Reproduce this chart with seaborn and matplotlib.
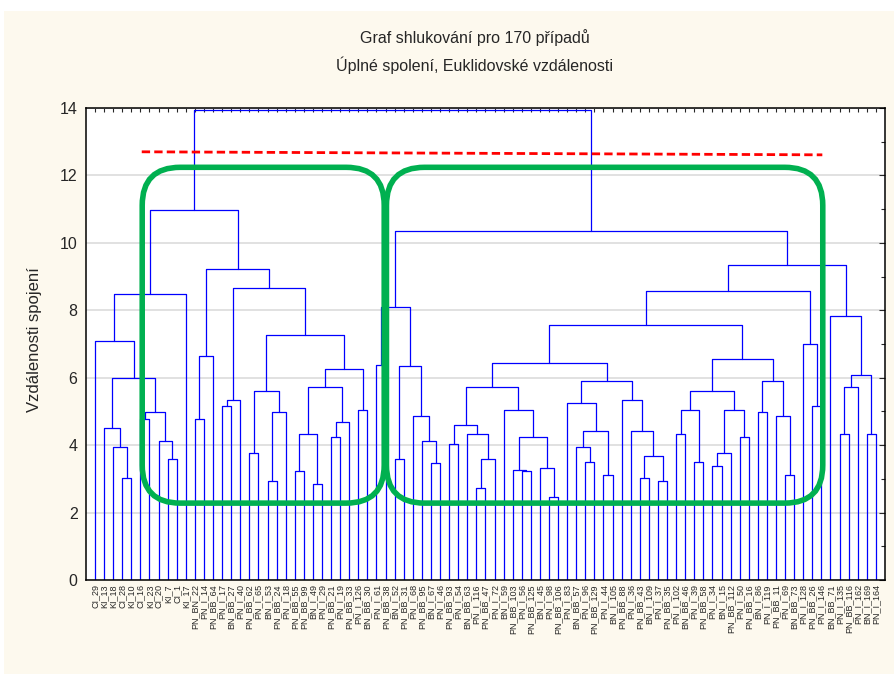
import pandas as pd
import matplotlib
matplotlib.use("Agg")
import matplotlib.pyplot as plt
from matplotlib.patches import FancyBboxPatch, Rectangle
from matplotlib.ticker import MultipleLocator
import seaborn as sns

# leaves are numbered 1..87 from left to right, a merge is (left, right, height)
p_group = (1, ((2, (3, (4, 5, 3.01), 3.95), 4.50),
               ((6, 7, 4.77), (8, (9, 10, 3.58), 4.13), 4.97), 5.99), 7.10)
q_group = ((12, 13, 4.77), 14, 6.63)
r_group = ((15, 16, 5.17), 17, 5.34)
e_group = ((18, 19, 3.76), ((20, 21, 2.94), 22, 4.97), 5.61)
s_group = (e_group, ((((23, 24, 3.22), (25, 26, 2.84), 4.33),
                      ((27, 28, 4.23), 29, 4.69), 5.72),
                     (30, 31, 5.05), 6.27), 7.28)
left_cluster = ((p_group, 11, 8.49), (q_group, (r_group, s_group, 8.66), 9.22), 10.98)

f_group = ((34, 35, 3.58), (36, (37, (38, 39, 3.48), 4.13), 4.87), 6.35)
g_group = ((32, 33, 6.37), f_group, 8.11)
i_group = ((40, 41, 4.04), (42, ((43, 44, 2.74), 45, 3.58), 4.33), 4.60)
j_group = ((47, (48, 49, 3.22), 3.25), (50, (51, 52, 2.47), 3.32), 4.24)
k_group = (i_group, (46, j_group, 5.05), 5.72)
l_group = (53, ((54, (55, 56, 3.50), 3.95), (57, 58, 3.11), 4.41), 5.25)
m_group = (59, (60, ((61, 62, 3.02), (63, 64, 2.93), 3.67), 4.41), 5.34)
n_group = (((69, 70, 3.39), 71, 3.76), (72, 73, 4.23), 5.05)
o_group = ((74, 75, 4.97), (76, (77, 78, 3.11), 4.87), 5.89)
t_group = ((((65, 66, 4.33), (67, 68, 3.50), 5.05), n_group, 5.61), o_group, 6.55)
u_group = ((k_group, (l_group, m_group, 5.89), 6.44), t_group, 7.55)
v_group = (u_group, (79, (80, 81, 5.15), 7.00), 8.57)
h_group = (82, (((83, 84, 4.33), 85, 5.71), (86, 87, 4.33), 6.07), 7.82)
right_cluster = (g_group, (v_group, h_group, 9.33), 10.34)

tree = (left_cluster, right_cluster, 13.95)

leaf_labels = [
    "CI_29", "KI_13", "KI_18", "CI_28", "KI_10", "CI_16", "KI_23", "CI_20", "KI_7", "CI_1",
    "KI_17", "PN_BN_22", "PN_I_14", "PN_BB_64", "PN_I_17", "BN_BB_27", "PN_I_40", "PN_BB_62", "PN_I_65", "BN_I_53",
    "PN_BB_24", "PN_I_18", "PN_BB_55", "PN_BB_99", "BN_I_49", "PN_I_29", "PN_BB_21", "PN_I_19", "PN_BB_33", "PN_I_126",
    "BN_BB_30", "PN_I_61", "PN_BB_38", "BN_I_52", "PN_BB_31", "PN_I_68", "PN_BB_95", "BN_I_67", "PN_I_46", "PN_BB_93",
    "PN_I_54", "BN_BB_63", "PN_I_116", "PN_BB_47", "PN_I_72", "BN_I_59", "PN_BB_103", "PN_I_56", "PN_BB_125", "BN_I_45",
    "PN_I_98", "PN_BB_106", "PN_I_83", "BN_BB_57", "PN_I_96", "PN_BB_129", "PN_I_44", "BN_I_105", "PN_BB_88", "PN_I_36",
    "PN_BB_43", "BN_I_109", "PN_I_37", "PN_BB_35", "PN_I_102", "BN_BB_46", "PN_I_39", "PN_BB_58", "PN_I_34", "BN_I_15",
    "PN_BB_112", "PN_I_50", "PN_BB_16", "BN_I_86", "PN_I_119", "PN_BB_11", "PN_I_69", "BN_BB_73", "PN_I_128", "PN_BB_26",
    "PN_I_146", "BN_BB_71", "PN_I_135", "PN_BB_116", "PN_I_162", "BN_I_169", "PN_I_164",
]

# hand drawn marks on the original (data units)
cut_line_x = [6.15, 81.1]
cut_line_y = [12.70, 12.61]
green_boxes = [(6.2, 2.28, 32.85, 12.24), (33.1, 2.28, 81.15, 12.24)]

# build the U shaped links
rows = []


def walk(node):
    if isinstance(node, int):
        return float(node), 0.0
    left, right, h = node
    xl, hl = walk(left)
    xr, hr = walk(right)
    link = len(rows) // 4
    for x, y in [(xl, hl), (xl, h), (xr, h), (xr, hr)]:
        rows.append({"x": x, "y": y, "link": link})
    return (xl + xr) / 2, h


walk(tree)
links = pd.DataFrame(rows)

sns.set_style("white")
plt.rcParams["font.family"] = ["Liberation Sans", "DejaVu Sans"]

fig = plt.figure(figsize=(8.94, 6.74), dpi=100, facecolor="white")
fig.add_artist(Rectangle((0.004, 0), 0.996, 0.984, transform=fig.transFigure,
                         facecolor="#fdf9ee", edgecolor="none", zorder=-10))
ax = fig.add_axes([0.0961, 0.1395, 0.8938, 0.7003])
ax.set_facecolor("white")

sns.lineplot(data=links, x="x", y="y", units="link", estimator=None, sort=False,
             color="#0000ff", linewidth=0.9, legend=False, ax=ax)

ax.set_xlim(0, len(leaf_labels) + 1)
ax.set_ylim(0, 14)
ax.set_xticks(range(1, len(leaf_labels) + 1))
ax.set_xticklabels(leaf_labels, rotation=90, fontsize=6.5)
ax.yaxis.set_major_locator(MultipleLocator(2))
ax.yaxis.set_minor_locator(MultipleLocator(1))
ax.tick_params(axis="x", direction="in", length=3, top=True, pad=3, width=0.8)
ax.tick_params(axis="y", which="both", direction="in", right=True, labelsize=11.5, pad=6, width=0.8)
ax.tick_params(axis="y", which="major", length=4)
ax.tick_params(axis="y", which="minor", length=3)
ax.grid(axis="y", which="major", color="#dcdcdc", linewidth=1.2)
ax.set_axisbelow(True)
ax.set_xlabel("")
ax.set_ylabel("")
for s in ax.spines.values():
    s.set_color("black")
    s.set_linewidth(1.1)

ax.plot(cut_line_x, cut_line_y, color="#ff0000", linewidth=2, dashes=(3, 1.5), zorder=4)

# round corners need the pixel aspect of the data units
bbox = ax.get_window_extent()
px_x = bbox.width / (len(leaf_labels) + 1)
px_y = bbox.height / 14
radius = 38 / px_x
for x0, y0, x1, y1 in green_boxes:
    ax.add_patch(FancyBboxPatch((x0, y0), x1 - x0, y1 - y0,
                                boxstyle=f"round,pad=0,rounding_size={radius}",
                                mutation_aspect=px_x / px_y, fill=False,
                                edgecolor="#00b050", linewidth=4, zorder=5))

fig.text(475 / 894, 1 - 38 / 674, "Graf shlukování pro 170 případů",
         ha="center", va="center", fontsize=11.5)
fig.text(475 / 894, 1 - 65 / 674, "Úplné spolení, Euklidovské vzdálenosti",
         ha="center", va="center", fontsize=11.5)
fig.text(35 / 894, 1 - 340 / 674, "Vzdálenosti spojení", rotation=90,
         ha="center", va="center", fontsize=12)

fig.savefig("out.png", dpi=100, facecolor=fig.get_facecolor())
